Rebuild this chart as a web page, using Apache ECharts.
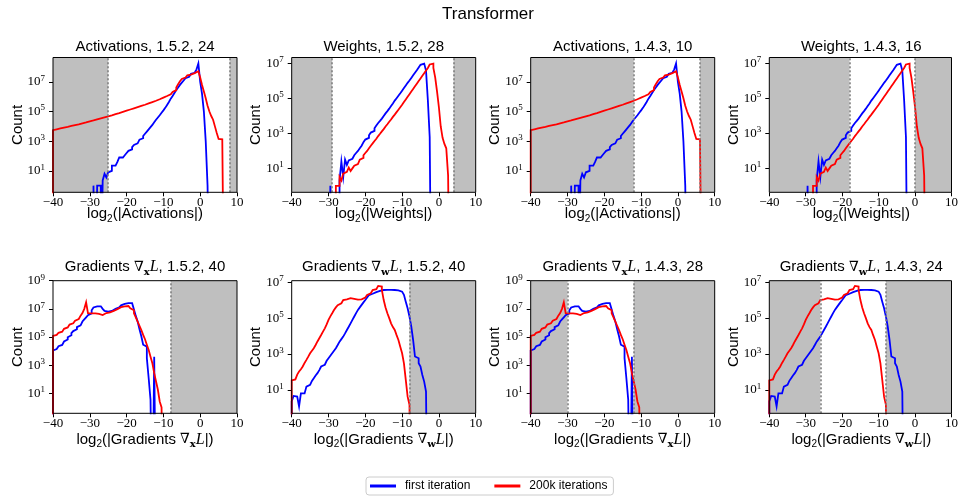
<!DOCTYPE html>
<html><head><meta charset="utf-8">
<script src="https://cdn.jsdelivr.net/npm/echarts@6/dist/echarts.min.js"></script>
<style>html,body{margin:0;padding:0;background:#fff}#c{width:961px;height:499px}</style>
</head><body><div id="c"></div><script>
// log10(count) per histogram bin; bins of width 0.5 in log2(|x|), from -40 to 10. Z = empty bin
const Z = -9;
const binStart = -40, binWidth = 0.5;
const xTicks = { min: -40, max: 10, interval: 10 };

const actFirst = [
 Z,Z,Z,Z,Z,Z,Z,Z,Z,Z,
 Z,Z,Z,Z,Z,Z,Z,Z,Z,Z,
 Z,Z,0,Z,0,0,Z,0.35,0.8,0.55,
 0.9,1.0,1.35,1.35,1.3,1.6,1.9,1.9,2.0,2.05,
 2.2,2.35,2.45,2.6,2.75,2.85,2.95,3.1,3.2,3.35,
 3.5,3.65,3.8,3.95,4.1,4.28,4.45,4.6,4.75,4.92,
 5.08,5.25,5.45,5.65,5.87,6.05,6.25,6.45,6.62,6.8,
 6.95,7.1,7.25,7.35,7.45,7.55,7.62,7.7,7.85,8.25,
 7.0,6.2,5.0,3.0,0,Z,Z,Z,Z,Z,
 Z,Z,Z,Z,Z,Z,Z,Z,Z,Z];
const actLate = [
 3.74,3.80,3.83,3.86,3.88,3.92,3.94,3.97,4.00,4.03,
 4.06,4.09,4.12,4.14,4.18,4.21,4.24,4.27,4.30,4.34,
 4.37,4.40,4.43,4.47,4.50,4.54,4.57,4.61,4.64,4.68,
 4.72,4.75,4.79,4.83,4.86,4.90,4.94,4.98,5.02,5.06,
 5.10,5.14,5.18,5.22,5.26,5.30,5.34,5.38,5.42,5.46,
 5.50,5.55,5.59,5.64,5.68,5.73,5.78,5.83,5.88,5.94,
 6.00,6.05,6.10,6.17,6.25,6.33,6.45,6.62,6.85,7.05,
 7.20,7.30,7.38,7.45,7.50,7.55,7.60,7.62,7.72,7.75,
 7.30,6.80,6.35,5.90,5.40,5.00,4.70,4.45,4.00,3.55,
 3.15,3.12,3.12,Z,Z,Z,Z,Z,Z,Z];
const wFirst = [
 Z,Z,Z,Z,Z,Z,Z,Z,Z,Z,
 Z,Z,Z,Z,Z,Z,Z,Z,Z,Z,
 Z,0,Z,Z,Z,Z,0.3,1.4,0.5,1.5,
 1.2,1.45,1.55,1.65,1.75,1.88,2.0,2.15,2.3,2.5,
 2.65,2.75,2.9,3.05,3.15,3.3,3.45,3.6,3.72,3.85,
 4.0,4.15,4.28,4.42,4.57,4.72,4.88,5.02,5.16,5.3,
 5.45,5.6,5.75,5.9,6.03,6.18,6.33,6.48,6.62,6.78,
 6.93,7.0,6.95,6.6,4.9,2.8,Z,Z,Z,Z,
 Z,Z,Z,Z,Z,Z,Z,Z,Z,Z,
 Z,Z,Z,Z,Z,Z,Z,Z,Z,Z];
const wLate = [
 Z,Z,Z,Z,Z,Z,Z,Z,Z,Z,
 Z,Z,Z,Z,Z,Z,Z,Z,Z,Z,
 Z,Z,Z,Z,0,0,0.5,0.3,0.7,0.8,
 0.9,1.05,0.85,1.0,1.15,1.25,1.35,1.5,1.6,1.75,
 1.88,2.0,2.15,2.3,2.43,2.57,2.7,2.85,2.98,3.12,
 3.25,3.4,3.53,3.67,3.8,3.95,4.08,4.22,4.36,4.5,
 4.64,4.8,4.95,5.1,5.25,5.4,5.55,5.7,5.85,6.0,
 6.15,6.3,6.45,6.6,6.75,6.95,7.0,6.75,6.2,5.4,
 4.5,3.4,2.75,2.4,2.15,0.6,Z,Z,Z,Z,
 Z,Z,Z,Z,Z,Z,Z,Z,Z,Z];
const gxFirst = [
 4.04,4.15,4.25,4.35,4.44,4.55,4.68,4.82,4.98,5.12,
 5.27,5.42,5.55,5.7,5.83,5.97,6.1,6.25,6.4,6.55,
 6.68,6.9,7.1,7.18,7.2,7.18,7.1,7.0,6.85,6.8,
 6.8,6.85,6.97,7.0,7.05,7.1,7.16,7.25,7.35,7.38,
 7.4,7.42,7.4,7.3,6.95,6.5,6.1,5.55,5.05,4.45,
 4.32,3.5,2.07,0.54,Z,3.6,Z,Z,Z,Z,
 Z,Z,Z,Z,Z,Z,Z,Z,Z,Z,
 Z,Z,Z,Z,Z,Z,Z,Z,Z,Z,
 Z,Z,Z,Z,Z,Z,Z,Z,Z,Z,
 Z,Z,Z,Z,Z,Z,Z,Z,Z,Z];
const gxLate = [
 5.08,5.15,5.22,5.3,5.38,5.48,5.58,5.68,5.78,5.88,
 5.97,6.06,6.16,6.28,6.4,6.52,6.7,7.0,7.46,6.7,
 6.68,6.65,6.68,6.7,6.65,6.6,6.56,6.6,6.7,6.73,
 6.75,6.8,6.85,6.9,6.98,7.05,7.12,7.16,7.18,7.2,
 7.2,7.15,7.04,6.9,6.68,6.4,6.1,5.8,5.5,5.15,
 4.84,4.45,4.08,3.6,3.14,2.43,1.84,1.25,0.42,0,
 Z,Z,Z,Z,Z,Z,Z,Z,Z,Z,
 Z,Z,Z,Z,Z,Z,Z,Z,Z,Z,
 Z,Z,Z,Z,Z,Z,Z,Z,Z,Z,
 Z,Z,Z,Z,Z,Z,Z,Z,Z,Z];
const gwFirst = [
 0.35,0.66,0.62,0.53,0.07,0.8,0.8,0.9,1.18,1.28,
 1.37,1.5,1.65,1.8,1.93,2.1,2.3,2.4,2.48,2.62,
 2.76,2.9,3.04,3.18,3.32,3.5,3.69,3.83,3.97,4.15,
 4.34,4.52,4.71,4.9,5.09,5.28,5.46,5.6,5.74,5.88,
 6.01,6.15,6.29,6.36,6.42,6.45,6.48,6.52,6.57,6.57,
 6.57,6.58,6.6,6.58,6.57,6.57,6.57,6.55,6.53,6.48,
 6.42,6.3,5.92,5.55,5.09,4.53,3.78,2.86,2.76,2.48,
 2.3,1.83,1.46,0.9,Z,Z,Z,Z,Z,Z,
 Z,Z,Z,Z,Z,Z,Z,Z,Z,Z,
 Z,Z,Z,Z,Z,Z,Z,Z,Z,Z];
const gwLate = [
 1.52,1.58,1.65,1.85,2.02,2.15,2.3,2.5,2.67,2.85,
 3.04,3.18,3.32,3.5,3.7,3.88,4.06,4.25,4.43,4.65,
 4.9,5.1,5.27,5.45,5.6,5.72,5.83,5.92,6.01,6.05,
 6.1,6.12,6.1,6.08,6.05,6.03,6.01,6.05,6.1,6.15,
 6.2,6.3,6.39,6.48,6.57,6.62,6.67,6.8,6.76,6.57,
 6.01,5.6,5.27,5.0,4.71,4.5,4.34,4.05,3.78,3.4,
 3.04,2.48,1.55,0.62,0.16,Z,Z,Z,Z,Z,
 Z,Z,Z,Z,Z,Z,Z,Z,Z,Z,
 Z,Z,Z,Z,Z,Z,Z,Z,Z,Z,
 Z,Z,Z,Z,Z,Z,Z,Z,Z,Z];

// per-kind y extents (log10 count) and decade tick labels
const yTicksA = [1,3,5,7];
const yTicksG = [1,3,5,7,9];
const kinds = {
  act: {first: actFirst, late: actLate, yMin: -0.45, yMax: 8.65, ticks: yTicksA,
        xl: '{s|log}{u|2}{s|(|Activations|)}'},
  wts: {first: wFirst, late: wLate, yMin: -0.37, yMax: 7.35, ticks: yTicksA,
        xl: '{s|log}{u|2}{s|(|Weights|)}'},
  gx:  {first: gxFirst, late: gxLate, yMin: -0.42, yMax: 9.0, ticks: yTicksG,
        xl: '{s|log}{u|2}{s|(|Gradients }{n|∇}{b|x}{l|L}{s||)}'},
  gw:  {first: gwFirst, late: gwLate, yMin: -0.31, yMax: 7.09, ticks: yTicksA,
        xl: '{s|log}{u|2}{s|(|Gradients }{n|∇}{b|w}{l|L}{s||)}'}
};
const panelKinds = ['act','wts','act','wts','gx','gw','gx','gw'];
const panelTitles = [
 '{s|Activations, 1.5.2, 24}', '{s|Weights, 1.5.2, 28}',
 '{s|Activations, 1.4.3, 10}', '{s|Weights, 1.4.3, 16}',
 '{s|Gradients }{n|∇}{b|x}{l|L}{s|, 1.5.2, 40}', '{s|Gradients }{n|∇}{b|w}{l|L}{s|, 1.5.2, 40}',
 '{s|Gradients }{n|∇}{b|x}{l|L}{s|, 1.4.3, 28}', '{s|Gradients }{n|∇}{b|w}{l|L}{s|, 1.4.3, 24}'
];
// representable range of each format (log2), outside is shaded
const fmtLow  = [-25, -29, -12, -18, -41, -41, -30, -26];
const fmtHigh = [8, 4, 6, 0, -8, -8, -12, -8];
const seriesNames = ['first iteration', '200k iterations'];
const seriesColors = ['#0000ff', '#ff0000'];

// layout
const colLeft = [53, 291.7, 530.7, 769.3];
const plotW = 184;
const rowTop = [57.5, 280.7];
const rowH = [134.8, 132.6];

const RICH = {
  s: {fontFamily: 'Liberation Sans', fontSize: 15, color: '#000', lineHeight: 20},
  u: {fontFamily: 'Liberation Sans', fontSize: 10, color: '#000', lineHeight: 12, verticalAlign: 'bottom'},
  n: {fontFamily: 'DejaVu Serif', fontSize: 14, color: '#000', lineHeight: 20},
  b: {fontFamily: 'DejaVu Serif', fontWeight: 'bold', fontSize: 10, color: '#000', lineHeight: 12, verticalAlign: 'bottom'},
  l: {fontFamily: 'Liberation Serif', fontStyle: 'italic', fontSize: 16, color: '#000', lineHeight: 20}
};

// histogram outline: each bin becomes a flat segment from its left edge to its right edge
function toSteps(vals) {
  const pts = [[binStart, Z]];
  vals.forEach((v, i) => {
    pts.push([binStart + i * binWidth, v]);
    pts.push([binStart + (i + 1) * binWidth, v]);
  });
  pts.push([binStart + vals.length * binWidth, Z]);
  return pts;
}

const grid = [], xAxis = [], yAxis = [], series = [], graphic = [];
graphic.push({type: 'text', x: 488, y: 14, style: {text: 'Transformer', fill: '#000',
  font: '17px "Liberation Sans"', align: 'center', verticalAlign: 'middle',
  textAlign: 'center', textVerticalAlign: 'middle'}});

panelKinds.forEach((k, i) => {
  const kd = kinds[k];
  const row = i < 4 ? 0 : 1, col = i % 4;
  const left = colLeft[col], top = rowTop[row], h = rowH[row];
  grid.push({left: left, top: top, width: plotW, height: h, show: true, z: 10,
    borderColor: '#000', borderWidth: 1, backgroundColor: 'transparent', containLabel: false});
  xAxis.push({type: 'value', gridIndex: i, min: xTicks.min, max: xTicks.max, interval: xTicks.interval,
    position: 'bottom',
    axisLine: {show: false, onZero: false}, splitLine: {show: false},
    axisTick: {show: true, length: 4, lineStyle: {color: '#000', width: 1}},
    axisLabel: {fontFamily: 'Liberation Serif', fontSize: 13, color: '#000', margin: 4,
      formatter: v => v < 0 ? '\u2212' + (-v) : String(v)}});
  yAxis.push({type: 'value', gridIndex: i, min: kd.yMin, max: kd.yMax, position: 'left',
    axisLine: {show: false, onZero: false}, splitLine: {show: false},
    axisTick: {show: true, length: 4, customValues: kd.ticks, lineStyle: {color: '#000', width: 1}},
    axisLabel: {customValues: kd.ticks, margin: 8, formatter: v => '{m|10}{e|' + v + '}',
      rich: {m: {fontFamily: 'Liberation Serif', fontSize: 13, color: '#000', lineHeight: 16},
             e: {fontFamily: 'Liberation Serif', fontSize: 9, color: '#000', lineHeight: 10, verticalAlign: 'top'}}}});
  const areas = [], lines = [];
  if (fmtLow[i] > xTicks.min) { areas.push([{xAxis: xTicks.min}, {xAxis: fmtLow[i]}]); lines.push({xAxis: fmtLow[i]}); }
  if (fmtHigh[i] < xTicks.max) { areas.push([{xAxis: fmtHigh[i]}, {xAxis: xTicks.max}]); lines.push({xAxis: fmtHigh[i]}); }
  series.push({type: 'line', name: 'range', xAxisIndex: i, yAxisIndex: i, data: [], z: 1, silent: true,
    markArea: {silent: true, itemStyle: {color: '#bfbfbf'}, label: {show: false}, data: areas},
    markLine: {silent: true, symbol: ['none', 'none'], label: {show: false},
      lineStyle: {color: '#7f7f7f', type: [2, 2], width: 1.6}, data: lines}});
  [kd.first, kd.late].forEach((vals, j) => {
    series.push({type: 'line', name: seriesNames[j], xAxisIndex: i, yAxisIndex: i,
      data: toSteps(vals), showSymbol: false, symbol: 'none', clip: true,
      color: seriesColors[j], itemStyle: {color: seriesColors[j]},
      lineStyle: {color: seriesColors[j], width: 1.8, join: 'miter'}, z: 3 + j, silent: true});
  });
  const cx = left + plotW / 2;
  graphic.push({type: 'text', x: cx, y: row === 0 ? 46.5 : 267, style: {text: panelTitles[i], rich: RICH,
    fill: '#000', align: 'center', verticalAlign: 'middle', textAlign: 'center', textVerticalAlign: 'middle'}});
  graphic.push({type: 'text', x: cx, y: row === 0 ? 214 : 439.5, style: {text: kd.xl, rich: RICH,
    fill: '#000', align: 'center', verticalAlign: 'middle', textAlign: 'center', textVerticalAlign: 'middle'}});
  graphic.push({type: 'text', x: left - 35.5, y: top + h / 2, rotation: Math.PI / 2, style: {text: 'Count',
    fill: '#000', font: '15px "Liberation Sans"', align: 'center', verticalAlign: 'middle',
    textAlign: 'center', textVerticalAlign: 'middle'}});
});

const chart = echarts.init(document.getElementById('c'), null, {renderer: 'canvas'});
chart.setOption({
  animation: false,
  backgroundColor: '#fff',
  grid, xAxis, yAxis, series, graphic,
  legend: {data: seriesNames, left: 366, top: 477, orient: 'horizontal', icon: 'rect',
    itemWidth: 26, itemHeight: 3, itemGap: 24, padding: [3, 6, 3, 4],
    borderColor: '#cccccc', borderWidth: 1, borderRadius: 3, selectedMode: false,
    textStyle: {fontFamily: 'Liberation Sans', fontSize: 12, color: '#000', padding: [0, 0, 0, 4]}}
});
</script></body></html>
